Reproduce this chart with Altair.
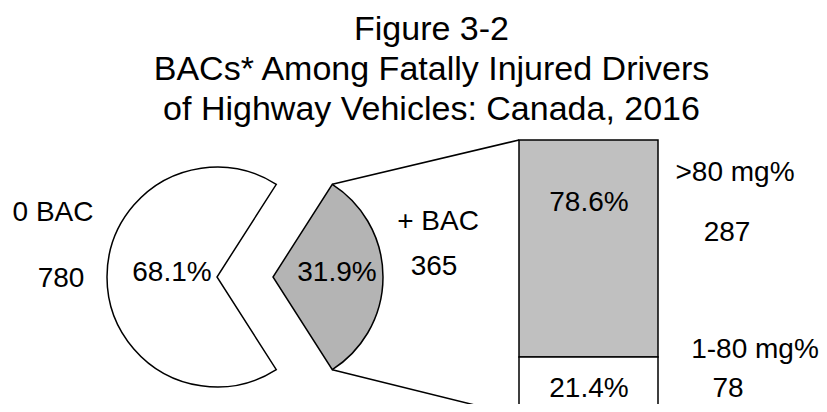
import math
import altair as alt
import pandas as pd

# ---------------- data ----------------
title_lines = ["Figure 3-2", "BACs* Among Fatally Injured Drivers",
               "of Highway Vehicles: Canada, 2016"]
main_cats = ["+ BAC", "0 BAC"]
main_counts = [365, 780]
main_pcts = ["31.9%", "68.1%"]
sub_cats = [">80 mg%", "1-80 mg%"]
sub_counts = [287, 78]
sub_pcts = ["78.6%", "21.4%"]

# ---------------- layout ----------------
W, PAD_TOP = 811, 132
H = 396 - PAD_TOP
FONT = "Liberation Sans"
LABEL_SIZE = 28
R = 110
PIE_CX, PIE_CY = 209, 137
EXPLODE = 56
BAR_X0, BAR_X1 = 511, 650
BAR_TOP, BAR_BOT = 0, 276
STROKE = 1.5

total = sum(main_counts)
share_plus = main_counts[0] / total
start = math.pi / 2 - share_plus * math.pi
end = start + share_plus * 2 * math.pi

pie_df = pd.DataFrame({"cat": main_cats, "count": main_counts, "rank": [0, 1]})
bar_df = pd.DataFrame({"cat": sub_cats, "count": sub_counts, "rank": [1, 0]})
one = pd.DataFrame({"k": [0]})

theta = alt.Theta("count:Q", stack=True,
                  scale=alt.Scale(range=[start, start + 2 * math.pi]))
order = alt.Order("rank:Q")

white_pie = alt.Chart(pie_df).mark_arc(
    outerRadius=R, fill="white", stroke="black", strokeWidth=STROKE
).encode(
    theta=theta, order=order,
    opacity=alt.condition(alt.datum.cat == main_cats[1], alt.value(1), alt.value(0)),
    x=alt.value(PIE_CX), y=alt.value(PIE_CY),
)

gray_slice = alt.Chart(pie_df).mark_arc(
    outerRadius=R, fill="#b4b4b4", stroke="black", strokeWidth=STROKE
).encode(
    theta=theta, order=order,
    opacity=alt.condition(alt.datum.cat == main_cats[0], alt.value(1), alt.value(0)),
    x=alt.value(PIE_CX + EXPLODE), y=alt.value(PIE_CY),
)

bar = alt.Chart(bar_df).transform_stack(
    stack="count", groupby=[], as_=["y0", "y1"], sort=[alt.SortField("rank")]
).mark_rect(stroke="black", strokeWidth=STROKE).encode(
    y=alt.Y("y0:Q", axis=None,
            scale=alt.Scale(domain=[0, sum(sub_counts)], range=[BAR_BOT, BAR_TOP])),
    y2="y1:Q",
    x=alt.value(BAR_X0), x2=alt.value(BAR_X1),
    fill=alt.Fill("cat:N", legend=None,
                  scale=alt.Scale(domain=sub_cats, range=["#c0c0c0", "white"])),
)

ax = PIE_CX + EXPLODE
p_top = (ax + R * math.sin(start), PIE_CY - R * math.cos(start))
p_bot = (ax + R * math.sin(end), PIE_CY - R * math.cos(end))

def rule(p, q):
    return alt.Chart(one).mark_rule(color="black", strokeWidth=STROKE).encode(
        x=alt.value(p[0]), y=alt.value(p[1]), x2=alt.value(q[0]), y2=alt.value(q[1]))

rules = [rule(p_top, (BAR_X0, BAR_TOP)), rule(p_bot, (BAR_X0, BAR_BOT))]

def label(text, x, y):
    return alt.Chart(pd.DataFrame({"t": [text]})).mark_text(
        font=FONT, fontSize=LABEL_SIZE, color="black", align="center", baseline="middle"
    ).encode(text="t:N", x=alt.value(x), y=alt.value(y))

labels = [
    label(main_cats[1], 45, 73),
    label(str(main_counts[1]), 53, 139),
    label(main_pcts[1], 164, 133),
    label(main_pcts[0], 329, 133),
    label(main_cats[0], 430, 82),
    label(str(main_counts[0]), 426, 127),
    label(sub_pcts[0], 581, 63),
    label(sub_pcts[1], 581, 249),
    label(sub_cats[0], 727, 33),
    label(str(sub_counts[0]), 719, 93),
    label(sub_cats[1], 747, 210),
    label(str(sub_counts[1]), 720, 249),
]

chart = alt.layer(white_pie, gray_slice, bar, *rules, *labels).properties(
    width=W, height=H,
    padding={"left": 0, "top": PAD_TOP, "right": 0, "bottom": 0},
    autosize=alt.AutoSizeParams(type="none"),
    title=alt.TitleParams(text=title_lines, font=FONT, fontSize=34, fontWeight="normal",
                          color="black", lineHeight=40, anchor="middle", frame="group",
                          dx=18, offset=12),
).configure_view(stroke=None)

chart.save("out.html", embed_options={"renderer": "svg", "actions": False})
